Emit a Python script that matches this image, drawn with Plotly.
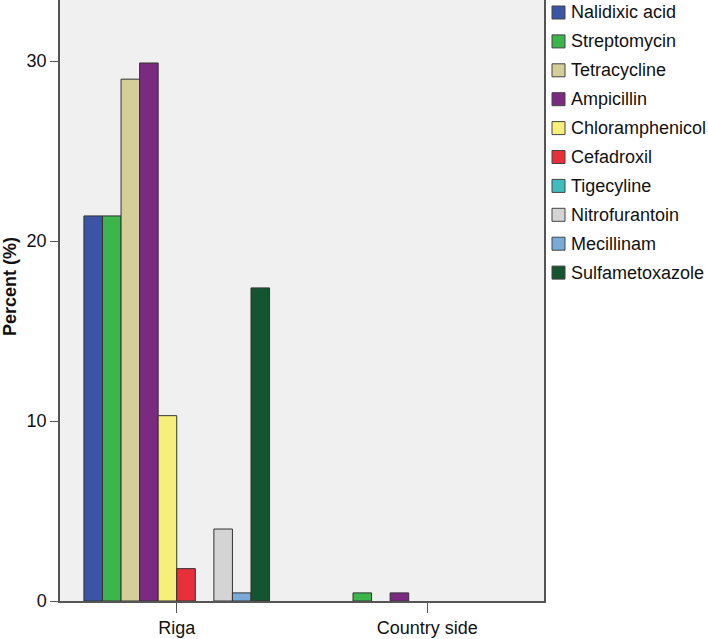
import plotly.graph_objects as go

categories = ["Riga", "Country side"]
drugs = ["Nalidixic acid", "Streptomycin", "Tetracycline", "Ampicillin",
         "Chloramphenicol", "Cefadroxil", "Tigecyline", "Nitrofurantoin",
         "Mecillinam", "Sulfametoxazole"]
riga = [21.4, 21.4, 29.0, 29.9, 10.3, 1.8, None, 4.0, 0.45, 17.4]
country = [None, 0.45, None, 0.45, None, None, None, None, None, None]
colors = ["#3a55a6", "#3cb54a", "#d4cf98", "#7b2a82", "#f6f07a",
          "#e8303a", "#3ebcc0", "#d4d4d4", "#7aaad8", "#14552f"]
y_ticks = [0, 10, 20, 30]
y_title = "Percent (%)"

W, H = 708, 639
ML, MR, MT, MB = 60, 164, 0, 38
PW, PH = W - ML - MR, H - MT - MB

fig = go.Figure()
for i, d in enumerate(drugs):
    fig.add_trace(go.Bar(
        x=categories, y=[riga[i], country[i]], name=d,
        marker=dict(color=colors[i], line=dict(color="#333333", width=1)),
    ))

# legend drawn manually (square swatches + labels) to match reference placement
shapes, annotations = [], []
for i, d in enumerate(drugs):
    cy = 12.5 + 28.9 * i           # pixel centre from top
    x0 = (552 - ML) / PW
    x1 = (565 - ML) / PW
    y0 = 1 - (cy - 6.5 - MT) / PH
    y1 = 1 - (cy + 6.5 - MT) / PH
    shapes.append(dict(type="rect", xref="paper", yref="paper", x0=x0, x1=x1, y0=y1, y1=y0,
                       fillcolor=colors[i], line=dict(color="#444444", width=1)))
    annotations.append(dict(text=d, xref="paper", yref="paper", x=(569 - ML) / PW,
                            y=1 - (cy - MT) / PH, xanchor="left", yanchor="middle",
                            showarrow=False, font=dict(size=18, color="#111111")))

# y-axis title
annotations.append(dict(text="<b>" + y_title + "</b>", xref="paper", yref="paper",
                        x=(10 - ML) / PW, y=1 - (287 - MT) / PH, textangle=-90,
                        xanchor="center", yanchor="middle", showarrow=False,
                        font=dict(size=18, color="#111111")))

fig.update_layout(
    width=W, height=H,
    barmode="group", bargap=0.259, bargroupgap=0,
    plot_bgcolor="#f0f0f0", paper_bgcolor="white",
    margin=dict(l=ML, r=MR, t=MT, b=MB, autoexpand=False),
    font=dict(family="Liberation Sans, Arial, sans-serif", size=18, color="#111111"),
    showlegend=False,
    shapes=shapes, annotations=annotations,
    xaxis=dict(range=[-0.466, 1.466], showline=True, linecolor="#555555", linewidth=1.5,
               mirror=True, ticks="outside", ticklen=10, tickcolor="#555555",
               showgrid=False, zeroline=False, automargin=False),
    yaxis=dict(range=[0, 33.4], tickvals=y_ticks, showline=True, linecolor="#555555",
               linewidth=1.5, mirror=True, ticks="outside", ticklen=8, tickcolor="#555555",
               showgrid=False, zeroline=False, automargin=False),
)

fig.write_html("out.html", config={"displayModeBar": False},
               post_script="document.body.style.margin='0';document.body.style.overflow='hidden';")
